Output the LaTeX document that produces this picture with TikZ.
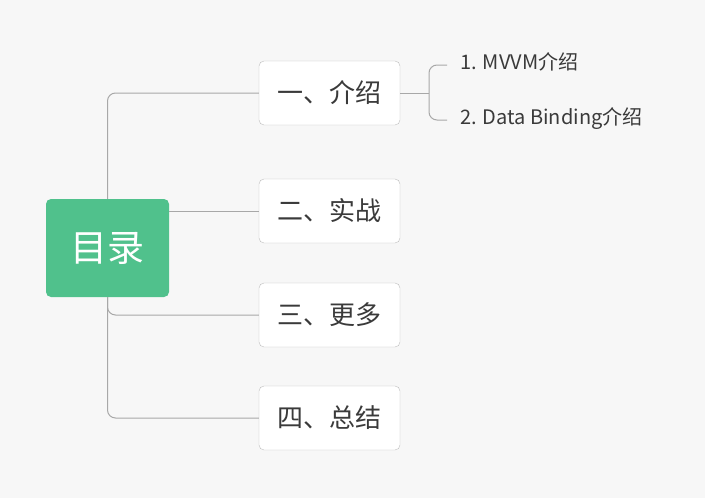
\documentclass[tikz,border=0pt]{standalone}
\usepackage{fontspec}
\setmainfont{Noto Sans CJK SC}
\usetikzlibrary{positioning}
\definecolor{bggray}{HTML}{F7F7F7}
\definecolor{rootgreen}{RGB}{80,193,140}
\definecolor{linegray}{HTML}{A8A8A8}
\definecolor{boxgray}{HTML}{BDBDBD}
\definecolor{textgray}{HTML}{3A3A3A}

\begin{document}
\begin{tikzpicture}[x=1pt,y=-1pt,
		rootnode/.style={rectangle,rounded corners=5pt,fill=rootgreen,text=white,minimum width=123pt,minimum height=98pt,font=\fontsize{37}{40}\selectfont},
		topicnode/.style={rectangle,rounded corners=5pt,draw=boxgray,fill=white,text=textgray,minimum width=141pt,minimum height=64pt,font=\fontsize{26}{30}\selectfont},
		subnode/.style={anchor=west,inner xsep=13pt,inner ysep=0pt,text=textgray,text height=0.9em,text depth=0.1em,font=\fontsize{20}{24}\selectfont},
		link/.style={draw=linegray,line width=1pt,rounded corners=8pt}]
		\fill[bggray] (0,0) rectangle (705,498);
		\useasboundingbox (0,0) rectangle (705,498);

		\node[rootnode]		(root)	at (107.5,248)	{\raisebox{-4pt}{目录}};
		\node[topicnode]	(t1)	at (329.5,93)	{一、介绍};
		\node[topicnode]	(t2)	at (329.5,211)	{二、实战};
		\node[topicnode]	(t3)	at (329.5,315)	{三、更多};
		\node[topicnode]	(t4)	at (329.5,418)	{四、总结};

		\coordinate (fork) at (429,93);
		\node[subnode]		(s1)	at (447,65)		{1. MVVM介绍};
		\node[subnode]		(s2)	at (447,120)	{2. Data Binding介绍};

		\draw[link] (root.north) |- (t1.west);
		\draw[link] (root.east |- t2.west) -- (t2.west);
		\draw[link] (root.south) |- (t3.west);
		\draw[link] (root.south) |- (t4.west);

		\draw[link] (t1.east) -- (fork);
		\draw[link] (fork) |- (s1.west);
		\draw[link] (fork) |- (s2.west);
	\end{tikzpicture}
\end{document}
